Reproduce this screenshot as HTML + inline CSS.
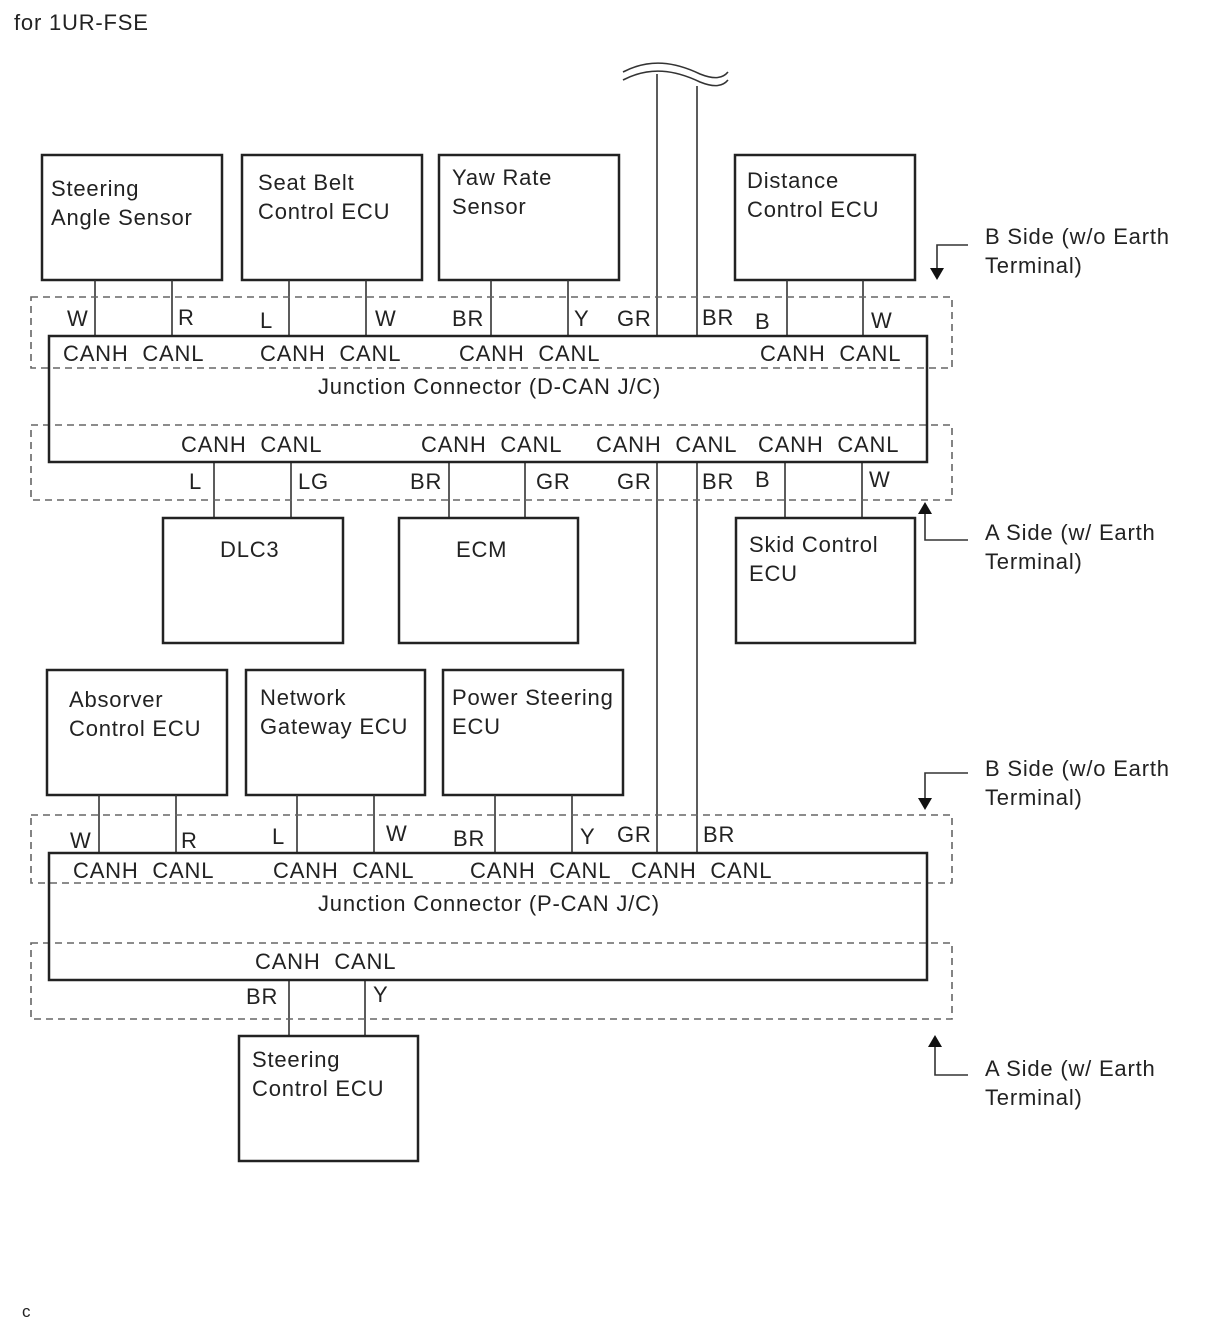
<!DOCTYPE html>
<html><head><meta charset="utf-8"><style>
html,body{margin:0;padding:0;background:#fff;}
svg{display:block;}
text{font-family:"Liberation Sans",sans-serif;font-size:22px;letter-spacing:0.8px;fill:#222;white-space:pre;}
.b{fill:none;stroke:#222;stroke-width:2.5;}
.w{stroke:#333;stroke-width:1.6;fill:none;}
.d{fill:none;stroke:#666;stroke-width:1.6;stroke-dasharray:7,5;}
</style></head><body>
<svg width="1210" height="1328" viewBox="0 0 1210 1328">
<text x="14" y="30">for 1UR-FSE</text>
<text x="22" y="1317" style="font-size:17px">c</text>

<path d="M623,72 C650,58 675,62 700,74 C715,80 723,78 728,72" class="w" stroke-width="2"/>
<path d="M623,80 C650,66 675,70 700,82 C715,88 723,86 728,80" class="w"/>

<rect class="b" x="42" y="155" width="180" height="125"/>
<rect class="b" x="242" y="155" width="180" height="125"/>
<rect class="b" x="439" y="155" width="180" height="125"/>
<rect class="b" x="735" y="155" width="180" height="125"/>
<text x="51" y="196">Steering</text><text x="51" y="225">Angle Sensor</text>
<text x="258" y="190">Seat Belt</text><text x="258" y="219">Control ECU</text>
<text x="452" y="185">Yaw Rate</text><text x="452" y="214">Sensor</text>
<text x="747" y="188">Distance</text><text x="747" y="217">Control ECU</text>

<g class="w">
<line x1="95" y1="280" x2="95" y2="336"/><line x1="172" y1="280" x2="172" y2="336"/>
<line x1="289" y1="280" x2="289" y2="336"/><line x1="366" y1="280" x2="366" y2="336"/>
<line x1="491" y1="280" x2="491" y2="336"/><line x1="568" y1="280" x2="568" y2="336"/>
<line x1="787" y1="280" x2="787" y2="336"/><line x1="863" y1="280" x2="863" y2="336"/>
<line x1="657" y1="74" x2="657" y2="336"/><line x1="697" y1="86" x2="697" y2="336"/>
<line x1="657" y1="462" x2="657" y2="853"/><line x1="697" y1="462" x2="697" y2="853"/>
<line x1="214" y1="462" x2="214" y2="518"/><line x1="291" y1="462" x2="291" y2="518"/>
<line x1="449" y1="462" x2="449" y2="518"/><line x1="525" y1="462" x2="525" y2="518"/>
<line x1="785" y1="462" x2="785" y2="518"/><line x1="862" y1="462" x2="862" y2="518"/>
</g>

<rect class="d" x="31" y="297" width="921" height="71"/>
<rect class="d" x="31" y="425" width="921" height="75"/>
<rect class="b" x="49" y="336" width="878" height="126"/>

<text x="67" y="326">W</text><text x="178" y="325">R</text><text x="260" y="328">L</text>
<text x="375" y="326">W</text><text x="452" y="326">BR</text><text x="574" y="326">Y</text>
<text x="617" y="326">GR</text><text x="702" y="325">BR</text><text x="755" y="329">B</text>
<text x="871" y="328">W</text>
<text x="63" y="361">CANH  CANL</text><text x="260" y="361">CANH  CANL</text>
<text x="459" y="361">CANH  CANL</text><text x="760" y="361">CANH  CANL</text>
<text x="318" y="394">Junction Connector (D-CAN J/C)</text>
<text x="181" y="452">CANH  CANL</text><text x="421" y="452">CANH  CANL</text>
<text x="596" y="452">CANH  CANL</text><text x="758" y="452">CANH  CANL</text>
<text x="189" y="489">L</text><text x="298" y="489">LG</text><text x="410" y="489">BR</text>
<text x="536" y="489">GR</text><text x="617" y="489">GR</text><text x="702" y="489">BR</text>
<text x="755" y="487">B</text><text x="869" y="487">W</text>

<rect class="b" x="163" y="518" width="180" height="125"/>
<rect class="b" x="399" y="518" width="179" height="125"/>
<rect class="b" x="736" y="518" width="179" height="125"/>
<text x="220" y="557">DLC3</text><text x="456" y="557">ECM</text>
<text x="749" y="552">Skid Control</text><text x="749" y="581">ECU</text>

<g class="w" stroke-width="2">
<polyline points="968,245 937,245 937,270"/>
<polyline points="925,512 925,540 968,540"/>
<polyline points="968,773 925,773 925,800"/>
<polyline points="935,1045 935,1075 968,1075"/>
</g>
<path d="M930,268 L944,268 L937,280Z" fill="#111"/>
<path d="M918,514 L932,514 L925,502Z" fill="#111"/>
<path d="M918,798 L932,798 L925,810Z" fill="#111"/>
<path d="M928,1047 L942,1047 L935,1035Z" fill="#111"/>
<text x="985" y="244">B Side (w/o Earth</text><text x="985" y="273">Terminal)</text>
<text x="985" y="540">A Side (w/ Earth</text><text x="985" y="569">Terminal)</text>
<text x="985" y="776">B Side (w/o Earth</text><text x="985" y="805">Terminal)</text>
<text x="985" y="1076">A Side (w/ Earth</text><text x="985" y="1105">Terminal)</text>

<rect class="b" x="47" y="670" width="180" height="125"/>
<rect class="b" x="246" y="670" width="179" height="125"/>
<rect class="b" x="443" y="670" width="180" height="125"/>
<text x="69" y="707">Absorver</text><text x="69" y="736">Control ECU</text>
<text x="260" y="705">Network</text><text x="260" y="734">Gateway ECU</text>
<text x="452" y="705">Power Steering</text><text x="452" y="734">ECU</text>
<g class="w">
<line x1="99" y1="795" x2="99" y2="853"/><line x1="176" y1="795" x2="176" y2="853"/>
<line x1="297" y1="795" x2="297" y2="853"/><line x1="374" y1="795" x2="374" y2="853"/>
<line x1="495" y1="795" x2="495" y2="853"/><line x1="572" y1="795" x2="572" y2="853"/>
<line x1="289" y1="980" x2="289" y2="1036"/><line x1="365" y1="980" x2="365" y2="1036"/>
</g>
<rect class="d" x="31" y="815" width="921" height="68"/>
<rect class="d" x="31" y="943" width="921" height="76"/>
<rect class="b" x="49" y="853" width="878" height="127"/>
<text x="70" y="848">W</text><text x="181" y="848">R</text><text x="272" y="844">L</text>
<text x="386" y="841">W</text><text x="453" y="846">BR</text><text x="580" y="844">Y</text>
<text x="617" y="842">GR</text><text x="703" y="842">BR</text>
<text x="73" y="878">CANH  CANL</text><text x="273" y="878">CANH  CANL</text>
<text x="470" y="878">CANH  CANL</text><text x="631" y="878">CANH  CANL</text>
<text x="318" y="911">Junction Connector (P-CAN J/C)</text>
<text x="255" y="969">CANH  CANL</text>
<text x="246" y="1004">BR</text><text x="373" y="1002">Y</text>
<rect class="b" x="239" y="1036" width="179" height="125"/>
<text x="252" y="1067">Steering</text><text x="252" y="1096">Control ECU</text>
</svg>
</body></html>
